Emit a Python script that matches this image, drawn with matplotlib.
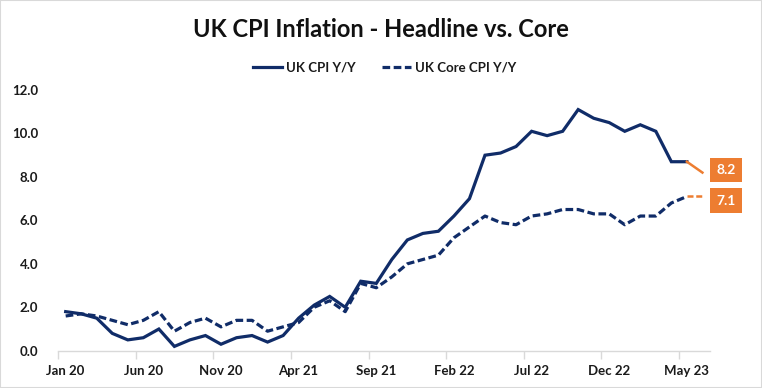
import matplotlib
matplotlib.use("Agg")
import matplotlib.pyplot as plt
from matplotlib.patches import Rectangle

months = ["Jan 20", "Feb 20", "Mar 20", "Apr 20", "May 20", "Jun 20", "Jul 20", "Aug 20", "Sep 20", "Oct 20", "Nov 20", "Dec 20",
          "Jan 21", "Feb 21", "Mar 21", "Apr 21", "May 21", "Jun 21", "Jul 21", "Aug 21", "Sep 21", "Oct 21", "Nov 21", "Dec 21",
          "Jan 22", "Feb 22", "Mar 22", "Apr 22", "May 22", "Jun 22", "Jul 22", "Aug 22", "Sep 22", "Oct 22", "Nov 22", "Dec 22",
          "Jan 23", "Feb 23", "Mar 23", "Apr 23", "May 23", "Jun 23"]

cpi = [1.8, 1.7, 1.5, 0.8, 0.5, 0.6, 1.0, 0.2, 0.5, 0.7, 0.3, 0.6,
       0.7, 0.4, 0.7, 1.5, 2.1, 2.5, 2.0, 3.2, 3.1, 4.2, 5.1, 5.4,
       5.5, 6.2, 7.0, 9.0, 9.1, 9.4, 10.1, 9.9, 10.1, 11.1, 10.7, 10.5,
       10.1, 10.4, 10.1, 8.7, 8.7, 8.2]

core = [1.6, 1.7, 1.6, 1.4, 1.2, 1.4, 1.8, 0.9, 1.3, 1.5, 1.1, 1.4,
        1.4, 0.9, 1.1, 1.3, 2.0, 2.3, 1.8, 3.1, 2.9, 3.4, 4.0, 4.2,
        4.4, 5.2, 5.7, 6.2, 5.9, 5.8, 6.2, 6.3, 6.5, 6.5, 6.3, 6.3,
        5.8, 6.2, 6.2, 6.8, 7.1, 7.1]

title = "UK CPI Inflation - Headline vs. Core"
series_names = ["UK CPI Y/Y", "UK Core CPI Y/Y"]
yticks = [0, 2, 4, 6, 8, 10, 12]

NAVY = "#102C68"
ORANGE = "#ED7D31"
FONT = "Lato"

plt.rcParams['font.family'] = [FONT, 'DejaVu Sans']

fig = plt.figure(figsize=(7.62, 3.88), dpi=100)
fig.patches.append(Rectangle((0, 0), 1, 1, transform=fig.transFigure, fill=False,
                             edgecolor="#D9D9D9", linewidth=1.5))
ax = fig.add_axes([0.076, 0.096, 0.856, 0.672])

x = list(range(len(months)))
n = len(months)
dash = (2.4, 1.1)
# main series up to second-to-last point
ax.plot(x[:-1], cpi[:-1], color=NAVY, lw=2.3, solid_joinstyle="miter", label=series_names[0])
ax.plot(x[:-1], core[:-1], color=NAVY, lw=2.3, dashes=dash, label=series_names[1])
# last segment in orange
ax.plot(x[-2:], cpi[-2:], color=ORANGE, lw=1.8)
ax.plot(x[-2:], core[-2:], color=ORANGE, lw=1.8, dashes=dash)

box = dict(boxstyle="square,pad=0.45", fc=ORANGE, ec="none")
ax.annotate(f"{cpi[-1]:.1f}", xy=(x[-1], cpi[-1]), xytext=(10, 2), textcoords="offset points",
            ha="left", va="center", color="white", fontsize=10, fontweight="bold", bbox=box)
ax.annotate(f"{core[-1]:.1f}", xy=(x[-1], core[-1]), xytext=(10, -3), textcoords="offset points",
            ha="left", va="center", color="white", fontsize=10, fontweight="bold", bbox=box)

ax.set_xlim(-0.5, n - 0.5)
ax.set_ylim(0, 12)
ax.set_yticks(yticks)
ax.set_yticklabels([f"{v:.1f}" for v in yticks])

label_pos = list(range(0, n, 5))
ax.set_xticks([p - 0.5 for p in label_pos])
ax.set_xticklabels([])
ax.set_xticks(label_pos, minor=True)
ax.set_xticklabels([months[p] for p in label_pos], minor=True)
ax.tick_params(axis="x", which="major", length=6, color="#D9D9D9", width=1)
ax.tick_params(axis="x", which="minor", length=0, pad=10)
ax.tick_params(axis="y", length=0, pad=14)
for lab in ax.get_xticklabels(minor=True) + ax.get_yticklabels():
    lab.set_fontweight("bold")
    lab.set_fontsize(9.5)
    lab.set_color("#1A1A1A")

for s in ["top", "right", "left"]:
    ax.spines[s].set_visible(False)
ax.spines["bottom"].set_color("#D9D9D9")
ax.spines["bottom"].set_linewidth(1)

fig.text(0.5, 0.925, title, ha="center", va="center", fontsize=17, fontweight="bold", color="#111111")
leg = fig.legend(loc="center", bbox_to_anchor=(0.505, 0.825), ncol=2, frameon=False,
                 prop={"weight": "bold", "size": 9.5}, handlelength=2.2, columnspacing=2.0,
                 handletextpad=0.3)
for t in leg.get_texts():
    t.set_color("#1A1A1A")

fig.savefig("out.png", dpi=100)
